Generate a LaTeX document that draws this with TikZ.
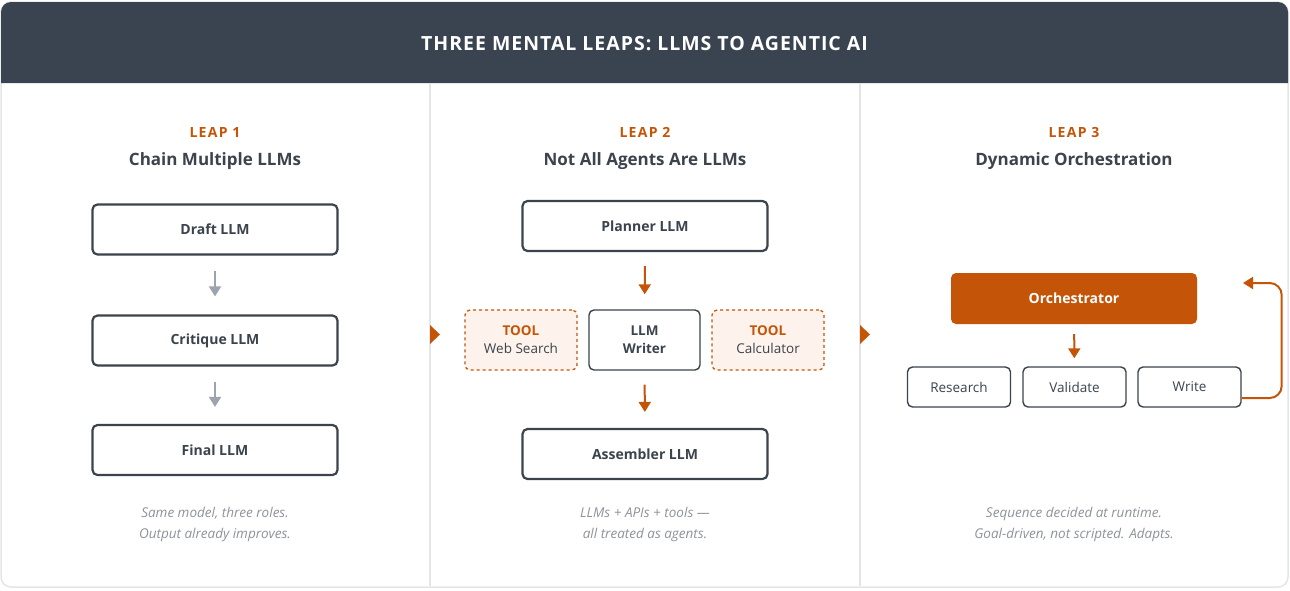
\documentclass[tikz,border=0pt]{standalone}
\usepackage{fontspec}
\setmainfont{Open Sans}
\newfontfamily\leapfont[LetterSpace=9]{Open Sans}
\newfontfamily\bannerfont[LetterSpace=5]{Open Sans}
\usetikzlibrary{arrows.meta, positioning}
\definecolor{leaphead}{HTML}{3A4450}
\definecolor{leaporange}{HTML}{C45508}
\definecolor{leapink}{HTML}{3B434D}
\definecolor{leapgray}{HTML}{9EA4AD}
\definecolor{leapnote}{HTML}{8E939B}
\definecolor{leapline}{HTML}{E3E5E8}
\definecolor{toolfill}{HTML}{FDF3EC}

\tikzset{
  llmbox/.style={draw=leapink, line width=2.2pt, rounded corners=5pt,
    minimum width=245pt, minimum height=50pt, text=leapink,
    font=\fontsize{14}{16}\selectfont\bfseries},
  toolbox/.style={draw=leaporange, dashed, line width=1.3pt, fill=toolfill,
    rounded corners=5pt, minimum width=112pt, minimum height=60pt,
    align=center, text=leapink, font=\fontsize{13.5}{18}\selectfont},
  agentbox/.style={draw=leapink, line width=1.4pt, rounded corners=5pt,
    minimum width=111pt, minimum height=60pt, align=center, text=leapink,
    font=\fontsize{13.5}{18}\selectfont\bfseries},
  stepbox/.style={draw=leapink, line width=1.4pt, rounded corners=5pt,
    minimum width=103pt, minimum height=40pt, text=leapink,
    font=\fontsize{13.5}{16}\selectfont},
  leaptag/.style={text=leaporange, font=\fontsize{14}{16}\selectfont\leapfont\bfseries},
  leaptitle/.style={text=leapink, font=\fontsize{17}{20}\selectfont\bfseries},
  leapnote/.style={text=leapnote, align=center, font=\fontsize{13.5}{21}\selectfont\itshape},
  chain/.style={-{Triangle[length=10pt,width=12pt]}, line width=2pt, leapgray},
  flow/.style={-{Triangle[length=10pt,width=12pt]}, line width=2pt, leaporange},
}

\begin{document}
\begin{tikzpicture}[x=1pt, y=-1pt]
  \useasboundingbox (0,0) rectangle (1290,590);

  % Frame and header
  \draw[leapline, line width=1.5pt, fill=white, rounded corners=10pt]
    (1,2) rectangle (1288,587);
  \fill[leaphead] (1,83) [rounded corners=10pt]-- (1,2) -- (1288,2)
    [sharp corners]-- (1288,83) -- cycle;
  \node[text=white, font=\fontsize{19.5}{22}\selectfont\bannerfont\bfseries] (title)
    at (644.5,44) {THREE MENTAL LEAPS: LLMS TO AGENTIC AI};

  % Column dividers and markers
  \foreach \x in {430, 860} {
    \draw[leapline, line width=1.2pt] (\x,83) -- (\x,586);
    \fill[leaporange] (\x,325) -- (\x+10,334.5) -- (\x,344) -- cycle;
  }

  % Leap 1
  \node[leaptag]   (tag1)   at (215,132) {LEAP 1};
  \node[leaptitle] (head1)  at (215,161.5) {Chain Multiple LLMs};
  \node[llmbox] (draft)    at (215,229.5) {Draft LLM};
  \node[llmbox] (critique) at (215,340.5) {Critique LLM};
  \node[llmbox] (final)    at (215,450)   {Final LLM};
  \draw[chain, shorten <=15pt, shorten >=18pt] (draft) -- (critique);
  \draw[chain, shorten <=15pt, shorten >=17pt] (critique) -- (final);
  \node[leapnote] (note1) at (215,524.5)
    {Same model, three roles.\\Output already improves.};

  % Leap 2
  \node[leaptag]   (tag2)  at (645,132) {LEAP 2};
  \node[leaptitle] (head2) at (645,161.5) {Not All Agents Are LLMs};
  \node[llmbox] (planner)   at (645,226) {Planner LLM};
  \node[toolbox] (web)      at (521,340)
    {\textcolor{leaporange}{\bfseries TOOL}\\Web Search};
  \node[agentbox] (writer)  at (644.5,340) {LLM\\Writer};
  \node[toolbox] (calc)     at (768,340)
    {\textcolor{leaporange}{\bfseries TOOL}\\Calculator};
  \node[llmbox] (assembler) at (645,454) {Assembler LLM};
  \draw[flow, shorten <=14pt, shorten >=15pt] (planner) -- (writer);
  \draw[flow, shorten <=14pt, shorten >=16pt] (writer) -- (assembler);
  \node[leapnote] (note2) at (645,524.5)
    {LLMs + APIs + tools ---\\all treated as agents.};

  % Leap 3
  \node[leaptag]   (tag3)  at (1074,132) {LEAP 3};
  \node[leaptitle] (head3) at (1074,161.5) {Dynamic Orchestration};
  \node[llmbox, draw=none, fill=leaporange, text=white, minimum width=246pt,
    minimum height=51pt] (orch) at (1074,298.5) {Orchestrator};
  \node[stepbox] (research) at (959,387)    {Research};
  \node[stepbox] (validate) at (1074.5,387) {Validate};
  \node[stepbox] (write)    at (1189.5,387) {Write};
  \draw[flow, shorten <=9pt, shorten >=8pt] (orch) -- (validate);
  \coordinate (loopend) at (1243,283);
  \draw[flow, rounded corners=12pt] ([yshift=-11pt]write.east) -- ++(40,0)
    |- (loopend);
  \node[leapnote] (note3) at (1074,524.5)
    {Sequence decided at runtime.\\Goal-driven, not scripted. Adapts.};
\end{tikzpicture}
\end{document}
